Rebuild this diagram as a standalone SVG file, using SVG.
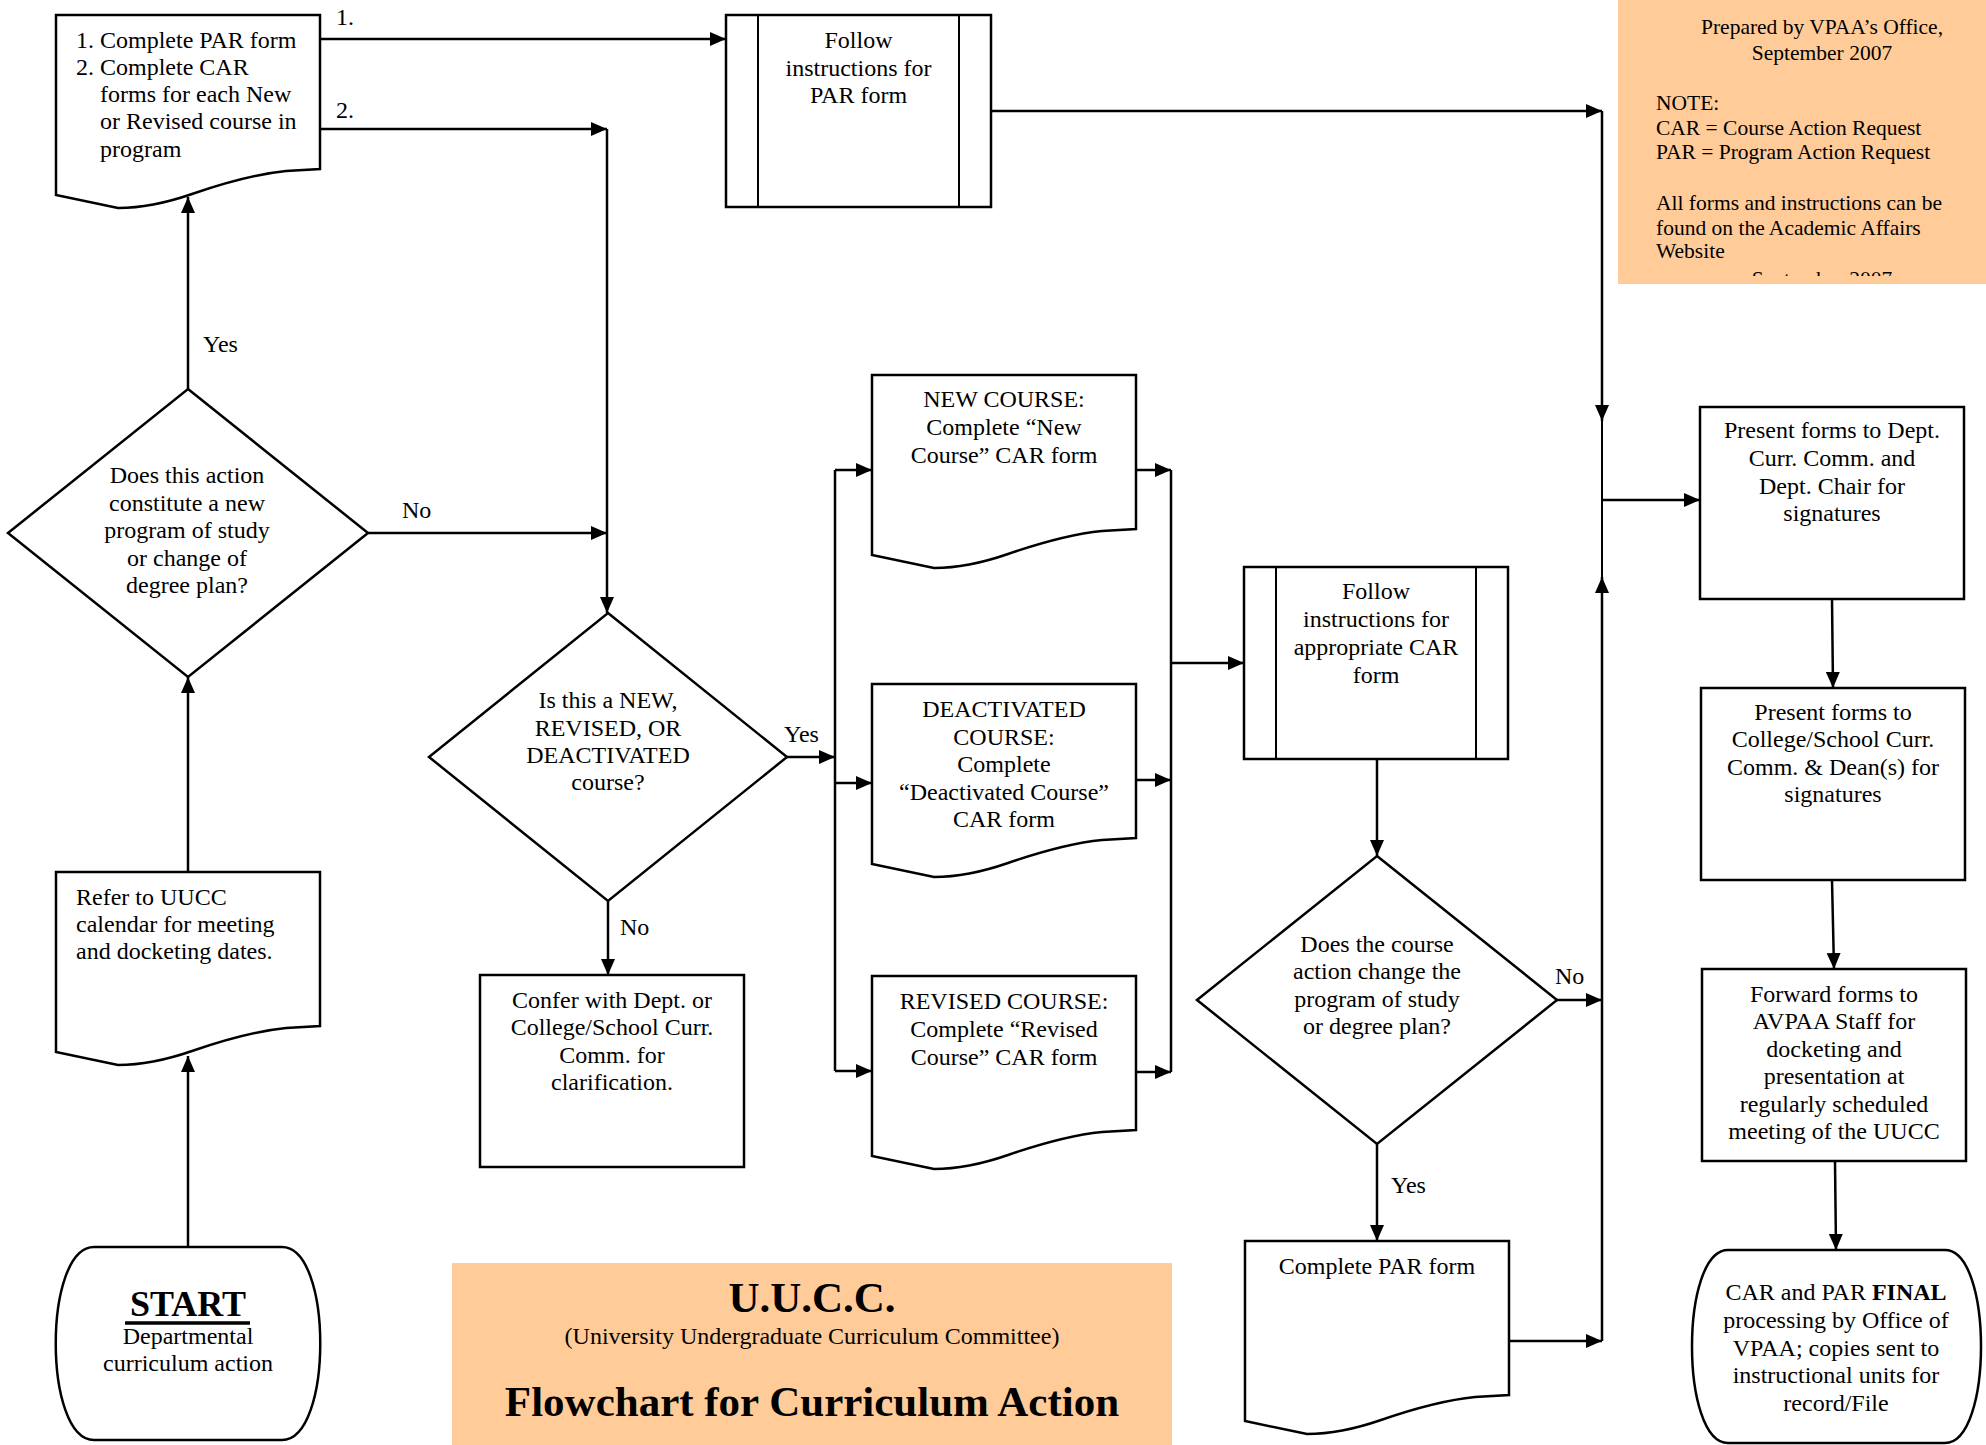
<svg xmlns="http://www.w3.org/2000/svg" xmlns:xlink="http://www.w3.org/1999/xlink" width="1986" height="1445" viewBox="0 0 1986 1445">
<style>
.shape{fill:#fff;stroke:#000;stroke-width:2.5}
.thin{fill:none;stroke:#000;stroke-width:2}
.conn{fill:none;stroke:#000;stroke-width:2.5}
.t{font-family:"Liberation Serif","Times New Roman",serif;font-size:24px;fill:#000}
.c{text-anchor:middle}
.note{font-family:"Liberation Serif","Times New Roman",serif;font-size:21.5px;fill:#000}
.b{font-weight:bold}
</style>
<defs>
<marker id="arr" markerUnits="userSpaceOnUse" markerWidth="17" markerHeight="15" refX="16" refY="7" orient="auto">
<path d="M0,0 L16,7 L0,14 Z" fill="#000"/>
</marker>
<path id="doc" d="M0,0 H264 V154 L230,156 C200,159 165,169 136,179 C110,188 85,193 62,193 L0,180 Z"/>
<clipPath id="noteclip"><rect x="1618" y="0" width="368" height="276"/></clipPath>
</defs>

<g id="connectors">
<path class="conn" d="M188,1247 V1056" marker-end="url(#arr)"/>
<path class="conn" d="M188,872 V677" marker-end="url(#arr)"/>
<path class="conn" d="M188,389 V197" marker-end="url(#arr)"/>
<path class="conn" d="M320,39 H726" marker-end="url(#arr)"/>
<path class="conn" d="M320,129 H607" marker-end="url(#arr)"/>
<path class="conn" d="M607,129 V613" marker-end="url(#arr)"/>
<path class="conn" d="M368,533 H607" marker-end="url(#arr)"/>
<path class="conn" d="M608,901 V975" marker-end="url(#arr)"/>
<path class="conn" d="M787,757 H835" marker-end="url(#arr)"/>
<path class="conn" d="M835,470 V1071"/>
<path class="conn" d="M835,470 H872" marker-end="url(#arr)"/>
<path class="conn" d="M835,783 H872" marker-end="url(#arr)"/>
<path class="conn" d="M835,1071 H872" marker-end="url(#arr)"/>
<path class="conn" d="M1136,470 H1171" marker-end="url(#arr)"/>
<path class="conn" d="M1136,780 H1171" marker-end="url(#arr)"/>
<path class="conn" d="M1136,1072 H1171" marker-end="url(#arr)"/>
<path class="conn" d="M1171,470 V1072"/>
<path class="conn" d="M1171,663 H1244" marker-end="url(#arr)"/>
<path class="conn" d="M1377,759 V856" marker-end="url(#arr)"/>
<path class="conn" d="M1557,1000 H1602" marker-end="url(#arr)"/>
<path class="conn" d="M1377,1144 V1241" marker-end="url(#arr)"/>
<path class="conn" d="M1509,1341 H1602" marker-end="url(#arr)"/>
<path class="conn" d="M991,111 H1602" marker-end="url(#arr)"/>
<path class="conn" d="M1602,111 V421" marker-end="url(#arr)"/>
<path class="thin" d="M1602,421 V577"/>
<path class="conn" d="M1602,1341 V577" marker-end="url(#arr)"/>
<path class="conn" d="M1602,500 H1700" marker-end="url(#arr)"/>
<path class="conn" d="M1832,599 L1833,688" marker-end="url(#arr)"/>
<path class="conn" d="M1832,880 L1834,969" marker-end="url(#arr)"/>
<path class="conn" d="M1835,1161 L1836,1250" marker-end="url(#arr)"/>
<text class="t" x="336" y="25">1.</text>
<text class="t" x="336" y="118">2.</text>
<text class="t" x="203" y="352">Yes</text>
<text class="t" x="402" y="518">No</text>
<text class="t" x="620" y="935">No</text>
<text class="t" x="784" y="742">Yes</text>
<text class="t" x="1555" y="984">No</text>
<text class="t" x="1391" y="1193">Yes</text>
</g>

<g id="n_note">
<rect x="1618" y="0" width="368" height="284" fill="#FFCC99"/>
<text class="note c" x="1822" y="34">Prepared by VPAA’s Office,</text>
<text class="note c" x="1822" y="60">September 2007</text>
<text class="note" x="1656" y="110">NOTE:</text>
<text class="note" x="1656" y="135">CAR = Course Action Request</text>
<text class="note" x="1656" y="159">PAR = Program Action Request</text>
<text class="note" x="1656" y="210">All forms and instructions can be</text>
<text class="note" x="1656" y="235">found on the Academic Affairs</text>
<text class="note" x="1656" y="258">Website</text>
<text class="note c" x="1822" y="286" clip-path="url(#noteclip)">September 2007</text>
</g>

<g id="n_topdoc">
<use href="#doc" x="56" y="15" class="shape"/>
<text class="t" x="76" y="48">1.</text><text class="t" x="100" y="48">Complete PAR form</text>
<text class="t" x="76" y="75">2.</text><text class="t" x="100" y="75">Complete CAR</text>
<text class="t" x="100" y="102">forms for each New</text>
<text class="t" x="100" y="129">or Revised course in</text>
<text class="t" x="100" y="157">program</text>
</g>

<g id="n_followpar">
<rect class="shape" x="726" y="15" width="265" height="192"/>
<line class="thin" x1="758" y1="15" x2="758" y2="207"/>
<line class="thin" x1="959" y1="15" x2="959" y2="207"/>
<text class="t c" x="858.5" y="48">Follow</text>
<text class="t c" x="858.5" y="75.5">instructions for</text>
<text class="t c" x="858.5" y="103">PAR form</text>
</g>

<g id="n_q1">
<polygon class="shape" points="188,389 368,533 188,677 8,533"/>
<text class="t c" x="187" y="483">Does this action</text>
<text class="t c" x="187" y="511">constitute a new</text>
<text class="t c" x="187" y="538">program of study</text>
<text class="t c" x="187" y="566">or change of</text>
<text class="t c" x="187" y="593">degree plan?</text>
</g>

<g id="n_q2">
<polygon class="shape" points="608,613 787,757 608,901 429,757"/>
<text class="t c" x="608" y="708">Is this a NEW,</text>
<text class="t c" x="608" y="735.5">REVISED, OR</text>
<text class="t c" x="608" y="763">DEACTIVATED</text>
<text class="t c" x="608" y="790">course?</text>
</g>

<g id="n_refer">
<use href="#doc" x="56" y="872" class="shape"/>
<text class="t" x="76" y="905">Refer to UUCC</text>
<text class="t" x="76" y="932">calendar for meeting</text>
<text class="t" x="76" y="959">and docketing dates.</text>
</g>

<g id="n_start">
<path class="shape" d="M94,1247 H282 C333,1247 333,1440 282,1440 H94 C43,1440 43,1247 94,1247 Z"/>
<text class="t c b" x="188" y="1316" style="font-size:36px">START</text>
<line x1="125" y1="1323" x2="250" y2="1323" stroke="#000" stroke-width="3.5"/>
<text class="t c" x="188" y="1344">Departmental</text>
<text class="t c" x="188" y="1371">curriculum action</text>
</g>

<g id="n_confer">
<rect class="shape" x="480" y="975" width="264" height="192"/>
<text class="t c" x="612" y="1008">Confer with Dept. or</text>
<text class="t c" x="612" y="1035">College/School Curr.</text>
<text class="t c" x="612" y="1063">Comm. for</text>
<text class="t c" x="612" y="1090">clarification.</text>
</g>

<g id="n_title">
<rect x="452" y="1263" width="720" height="182" fill="#FFCC99"/>
<text class="t c b" x="812" y="1312" style="font-size:43px">U.U.C.C.</text>
<text class="t c" x="812" y="1344">(University Undergraduate Curriculum Committee)</text>
<text class="t c b" x="812" y="1416" style="font-size:43px">Flowchart for Curriculum Action</text>
</g>

<g id="n_new">
<use href="#doc" x="872" y="375" class="shape"/>
<text class="t c" x="1004" y="407">NEW COURSE:</text>
<text class="t c" x="1004" y="435">Complete “New</text>
<text class="t c" x="1004" y="463">Course” CAR form</text>
</g>

<g id="n_deact">
<use href="#doc" x="872" y="684" class="shape"/>
<text class="t c" x="1004" y="717">DEACTIVATED</text>
<text class="t c" x="1004" y="744.5">COURSE:</text>
<text class="t c" x="1004" y="772">Complete</text>
<text class="t c" x="1004" y="799.5">“Deactivated Course”</text>
<text class="t c" x="1004" y="827">CAR form</text>
</g>

<g id="n_rev">
<use href="#doc" x="872" y="976" class="shape"/>
<text class="t c" x="1004" y="1009">REVISED COURSE:</text>
<text class="t c" x="1004" y="1037">Complete “Revised</text>
<text class="t c" x="1004" y="1065">Course” CAR form</text>
</g>

<g id="n_followcar">
<rect class="shape" x="1244" y="567" width="264" height="192"/>
<line class="thin" x1="1276" y1="567" x2="1276" y2="759"/>
<line class="thin" x1="1476" y1="567" x2="1476" y2="759"/>
<text class="t c" x="1376" y="599">Follow</text>
<text class="t c" x="1376" y="627">instructions for</text>
<text class="t c" x="1376" y="654.5">appropriate CAR</text>
<text class="t c" x="1376" y="683">form</text>
</g>

<g id="n_q3">
<polygon class="shape" points="1377,856 1557,1000 1377,1144 1197,1000"/>
<text class="t c" x="1377" y="951.5">Does the course</text>
<text class="t c" x="1377" y="979">action change the</text>
<text class="t c" x="1377" y="1007">program of study</text>
<text class="t c" x="1377" y="1034">or degree plan?</text>
</g>

<g id="n_parform">
<use href="#doc" x="1245" y="1241" class="shape"/>
<text class="t c" x="1377" y="1274">Complete PAR form</text>
</g>

<g id="n_dept">
<rect class="shape" x="1700" y="407" width="264" height="192"/>
<text class="t c" x="1832" y="438">Present forms to Dept.</text>
<text class="t c" x="1832" y="466">Curr. Comm. and</text>
<text class="t c" x="1832" y="493.5">Dept. Chair for</text>
<text class="t c" x="1832" y="521">signatures</text>
</g>

<g id="n_college">
<rect class="shape" x="1701" y="688" width="264" height="192"/>
<text class="t c" x="1833" y="719.5">Present forms to</text>
<text class="t c" x="1833" y="747">College/School Curr.</text>
<text class="t c" x="1833" y="774.5">Comm. &amp; Dean(s) for</text>
<text class="t c" x="1833" y="802">signatures</text>
</g>

<g id="n_forward">
<rect class="shape" x="1702" y="969" width="264" height="192"/>
<text class="t c" x="1834" y="1001.5">Forward forms to</text>
<text class="t c" x="1834" y="1029">AVPAA Staff for</text>
<text class="t c" x="1834" y="1056.5">docketing and</text>
<text class="t c" x="1834" y="1084">presentation at</text>
<text class="t c" x="1834" y="1111.5">regularly scheduled</text>
<text class="t c" x="1834" y="1139">meeting of the UUCC</text>
</g>

<g id="n_final">
<path class="shape" d="M1728,1250 H1945 C1993,1250 1993,1443 1945,1443 H1728 C1680,1443 1680,1250 1728,1250 Z"/>
<text class="t c" x="1836" y="1300">CAR and PAR <tspan class="b">FINAL</tspan></text>
<text class="t c" x="1836" y="1328">processing by Office of</text>
<text class="t c" x="1836" y="1355.5">VPAA; copies sent to</text>
<text class="t c" x="1836" y="1383">instructional units for</text>
<text class="t c" x="1836" y="1411">record/File</text>
</g>
</svg>
